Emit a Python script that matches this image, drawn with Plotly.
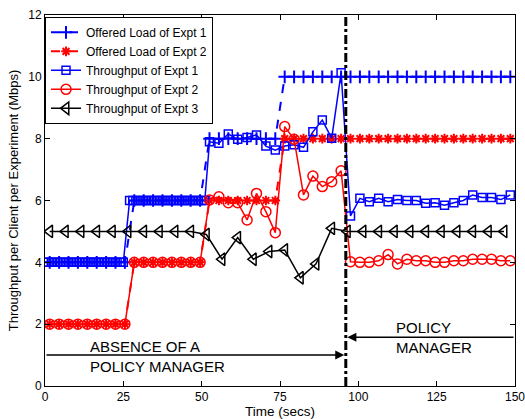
import plotly.graph_objects as go

# ---- data ----
t_load = [1.5, 4.5, 7.5, 10.5, 13.5, 16.5, 19.5, 22.5, 25.5,
          28.5, 31.5, 34.5, 37.5, 40.5, 43.5, 46.5, 49.5,
          52.5, 55.5, 58.5, 61.5, 64.5, 67.5, 70.5, 73.5,
          76.5, 79.5, 82.5, 85.5, 88.5, 91.5, 94.5, 97.5, 100.5, 103.5,
          106.5, 109.5, 112.5, 115.5, 118.5, 121.5, 124.5, 127.5, 130.5,
          133.5, 136.5, 139.5, 142.5, 145.5, 148.5]
offered_1 = [4, 4, 4, 4, 4, 4, 4, 4, 4,
             6, 6, 6, 6, 6, 6, 6, 6,
             8, 8, 8, 8, 8, 8, 8, 8,
             10, 10, 10, 10, 10, 10, 10, 10, 10, 10,
             10, 10, 10, 10, 10, 10, 10, 10, 10,
             10, 10, 10, 10, 10, 10]
offered_2 = [2, 2, 2, 2, 2, 2, 2, 2, 2,
             4, 4, 4, 4, 4, 4, 4, 4,
             6, 6, 6, 6, 6, 6, 6, 6,
             8, 8, 8, 8, 8, 8, 8, 8, 8, 8,
             8, 8, 8, 8, 8, 8, 8, 8, 8,
             8, 8, 8, 8, 8, 8]

t_thr1 = [0, 1, 2, 3, 4, 5, 6, 7, 8, 9, 10, 11, 12, 13, 14, 15, 16, 17, 18,
          19, 20, 21, 22, 23, 24, 25,
          27, 28, 29, 30, 31, 32, 33, 34, 35, 36, 37, 38, 39, 40, 41, 42, 43,
          44, 45, 46, 47, 48, 49, 50, 51,
          52.5, 55.5, 58.5, 61.5, 64.5, 67.5, 70.5, 73.5, 76.5, 79.5, 82.5,
          85.5, 88.5, 91.5, 94.5, 97.5, 100.5, 103.5, 106.5, 109.5, 112.5,
          115.5, 118.5, 121.5, 124.5, 127.5, 130.5, 133.5, 136.5, 139.5,
          142.5, 145.5, 148.5]
thr_1 = [4, 4, 4, 4, 4, 4, 4, 4, 4, 4, 4, 4, 4, 4, 4, 4, 4, 4, 4,
         4, 4, 4, 4, 4, 4, 4,
         6, 6, 6, 6, 6, 6, 6, 6, 6, 6, 6, 6, 6, 6, 6, 6, 6,
         6, 6, 6, 6, 6, 6, 6, 6,
         7.90, 7.85, 8.15, 7.98, 8.04, 8.12, 7.76, 7.63, 7.76, 7.80, 7.72,
         8.22, 8.60, 8.01, 10.13, 5.50, 6.07, 5.96, 6.07, 5.96, 6.03,
         6.00, 6.00, 5.91, 5.93, 5.85, 5.93, 6.00, 6.18, 6.10,
         6.10, 6.03, 6.18]

t_thr2 = t_load
thr_2 = [2, 2, 2, 2, 2, 2, 2, 2, 2,
         4, 4, 4, 4, 4, 4, 4, 4,
         6.02, 6.12, 5.93, 5.93, 5.37, 6.23, 5.64, 4.96,
         8.39, 7.98, 6.18, 6.79, 6.45, 6.61, 6.96, 4.02, 4.00, 4.00,
         4.05, 4.25, 3.95, 4.10, 4.05, 4.05, 4.00, 4.00, 4.05,
         4.05, 4.10, 4.10, 4.10, 4.05, 4.05]

t_thr3 = [1.5, 6.5, 11.5, 16.5, 21.5, 26.5, 31.5, 36.5, 41.5, 46.5,
          51.5, 56.5, 61.5, 66.5, 71.5, 76.5, 81.5, 86.5, 91.5, 96.5,
          101.5, 106.5, 111.5, 116.5, 121.5, 126.5, 131.5, 136.5, 141.5, 146.5]
thr_3 = [5, 5, 5, 5, 5, 5, 5, 5, 5, 5,
         4.9, 4.1, 4.8, 4.1, 4.35, 4.4, 3.5, 3.95, 5.1, 5.0,
         5, 5, 5, 5, 5, 5, 5, 5, 5, 5]

x_ticks = [0, 25, 50, 75, 100, 125, 150]
y_ticks = [0, 2, 4, 6, 8, 10, 12]
switch_time = 96

BLUE = "#0000ff"
RED = "#ff0000"
FONT = "Liberation Sans, Arial, sans-serif"

fig = go.Figure()
fig.add_trace(go.Scatter(x=t_load, y=offered_1, mode="lines+markers",
                         name="Offered Load of Expt 1",
                         line=dict(color=BLUE, width=2, dash="dash"),
                         marker=dict(symbol="cross-thin-open", size=9,
                                     line=dict(color=BLUE, width=2))))
fig.add_trace(go.Scatter(x=t_load, y=offered_2, mode="lines+markers",
                         name="Offered Load of Expt 2",
                         line=dict(color=RED, width=2, dash="dash"),
                         marker=dict(symbol="asterisk-open", size=8,
                                     line=dict(color=RED, width=2))))
fig.add_trace(go.Scatter(x=t_thr1, y=thr_1, mode="lines+markers",
                         name="Throughput of Expt 1",
                         line=dict(color=BLUE, width=1.5),
                         marker=dict(symbol="square-open", size=8,
                                     line=dict(color=BLUE, width=1.5))))
fig.add_trace(go.Scatter(x=t_thr2, y=thr_2, mode="lines+markers",
                         name="Throughput of Expt 2",
                         line=dict(color=RED, width=1.5),
                         marker=dict(symbol="circle-open", size=10,
                                     line=dict(color=RED, width=1.5))))
fig.add_trace(go.Scatter(x=t_thr3, y=thr_3, mode="lines+markers",
                         name="Throughput of Expt 3",
                         line=dict(color="black", width=1.5),
                         marker=dict(symbol="triangle-left-open", size=11,
                                     line=dict(color="black", width=1.5))))

fig.add_shape(type="line", x0=switch_time, x1=switch_time, y0=0, y1=12,
              xref="x", yref="y", layer="above",
              line=dict(color="black", width=3, dash="dashdot"))

fig.add_annotation(x=95.5, y=1, ax=0, ay=1, xref="x", yref="y",
                   axref="x", ayref="y", text="", showarrow=True,
                   arrowhead=2, arrowsize=1.2, arrowwidth=1.5,
                   arrowcolor="black")
fig.add_annotation(x=96.5, y=1.58, ax=150, ay=1.58, xref="x", yref="y",
                   axref="x", ayref="y", text="", showarrow=True,
                   arrowhead=2, arrowsize=1.2, arrowwidth=1.5,
                   arrowcolor="black")
fig.add_annotation(x=13.8, y=0.97, xref="x", yref="y", showarrow=False,
                   text="ABSENCE OF A<br>POLICY MANAGER", align="left",
                   xanchor="left", yanchor="middle",
                   font=dict(family=FONT, size=15, color="black"))
fig.add_annotation(x=111.3, y=1.58, xref="x", yref="y", showarrow=False,
                   text="POLICY<br>MANAGER", align="left",
                   xanchor="left", yanchor="middle",
                   font=dict(family=FONT, size=15, color="black"))

axis_common = dict(showline=True, linecolor="black", linewidth=1,
                   mirror="ticks", ticks="inside", ticklen=5,
                   tickcolor="black", showgrid=False, zeroline=False,
                   automargin=False, ticklabeloverflow="allow",
                   tickfont=dict(family=FONT, size=12, color="black"))
fig.update_xaxes(range=[0, 150], tickvals=x_ticks,
                 title=dict(text="Time (secs)", standoff=3,
                            font=dict(family=FONT, size=13.5, color="black")),
                 **axis_common)
fig.update_yaxes(range=[0, 12], tickvals=y_ticks,
                 title=dict(text="Throughput per Client per Experiment (Mbps)",
                            standoff=6,
                            font=dict(family=FONT, size=13, color="black")),
                 **axis_common)

fig.update_layout(
    width=525, height=419,
    margin=dict(l=45, r=10, t=15, b=33),
    paper_bgcolor="white", plot_bgcolor="white",
    font=dict(family=FONT, size=11, color="black"),
    legend=dict(x=0.0, y=0.995, xanchor="left", yanchor="top",
                bgcolor="white", bordercolor="black", borderwidth=1,
                font=dict(family=FONT, size=12, color="black"),
                tracegroupgap=0, itemwidth=30),
)

fig.write_html("out.html",
               config={"displayModeBar": False},
               post_script="document.body.style.margin='0';"
                           "document.body.style.overflow='hidden';")
